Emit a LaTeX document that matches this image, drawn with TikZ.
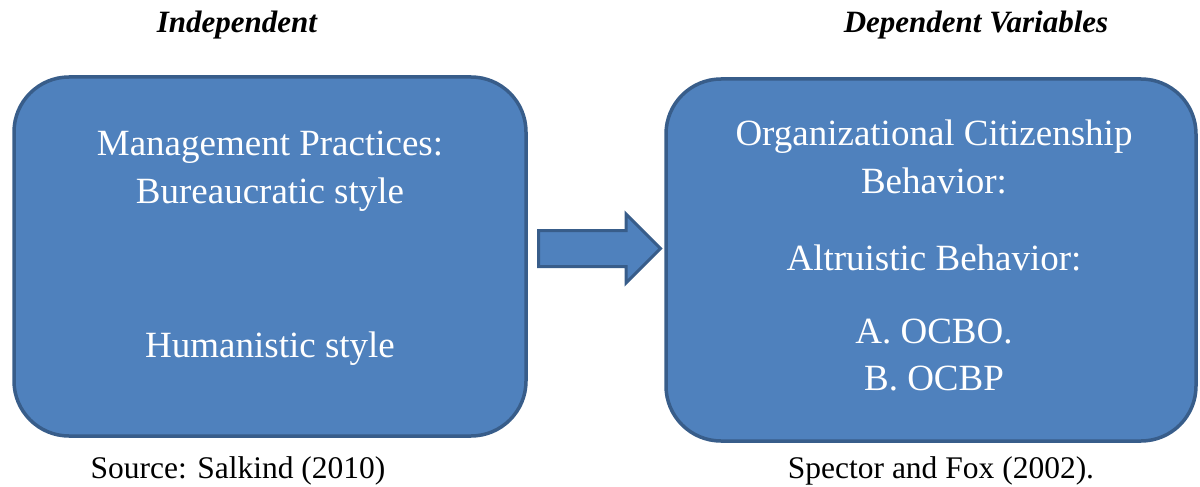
\documentclass[tikz,border=0pt]{standalone}
\usepackage{fontspec}
\setmainfont{Liberation Serif}
\usetikzlibrary{shapes.arrows,positioning}
\definecolor{boxfill}{HTML}{4F81BD}
\definecolor{boxline}{HTML}{385D8A}
\tikzset{
  varbox/.style={draw=boxline, fill=boxfill, line width=3.5pt, rounded corners=55pt},
  boxtext/.style={text=white, anchor=base, font=\fontsize{37}{46}\selectfont},
  head/.style={anchor=base, font=\fontsize{31}{36}\selectfont\bfseries\itshape},
  src/.style={anchor=base, font=\fontsize{31.5}{36}\selectfont}
}
\begin{document}
\begin{tikzpicture}[x=1pt, y=-1pt]
\useasboundingbox (0,0) rectangle (1200,487);
\node[varbox, minimum width=512pt, minimum height=359pt] (indep) at (270,256.5) {};
  \node[varbox, minimum width=530pt, minimum height=362pt] (dep) at (931,260) {};
  \node[single arrow, draw=boxline, fill=boxfill, line width=3pt,
    minimum height=122pt, minimum width=66pt, single arrow head extend=16.5pt,
    inner ysep=16.5pt, inner xsep=0pt, text height=0pt, text depth=0pt] (arrow) at (590.5,248.5) {};
  \node[head] (indlab) at (237,33) {Independent};
  \node[head] (deplab) at (976,33) {Dependent Variables};
  % left box text
  \node[boxtext] (mp) at (270,155) {Management Practices:};
  \node[boxtext] (bs) at (270,203) {Bureaucratic style};
  \node[boxtext] (hs) at (270,357) {Humanistic style};
  % right box text
  \node[boxtext] (ocb) at (934,145) {Organizational Citizenship};
  \node[boxtext] (beh) at (934,193) {Behavior:};
  \node[boxtext] (alt) at (934,270) {Altruistic Behavior:};
  \node[boxtext] (ocbo) at (934,343) {A. OCBO.};
  \node[boxtext] (ocbp) at (934,390) {B. OCBP};
  \node[src] (s1) at (238,478) {Source: Salkind (2010)};
  \node[src] (s2) at (941,478) {Spector and Fox (2002).};
 \end{tikzpicture}
\end{document}
